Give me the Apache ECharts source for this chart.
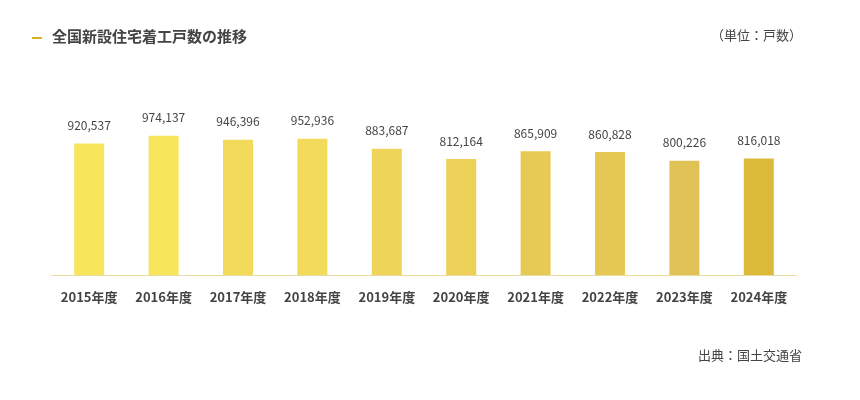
<!DOCTYPE html>
<html><head><meta charset="utf-8">
<script src="https://cdn.jsdelivr.net/npm/echarts@6/dist/echarts.min.js"></script>
<style>body{margin:0;background:#fff}#c{width:860px;height:400px}</style>
</head><body><div id="c"></div>
<script>
var years = ['2015年度','2016年度','2017年度','2018年度','2019年度','2020年度','2021年度','2022年度','2023年度','2024年度'];
var starts = [920537,974137,946396,952936,883687,812164,865909,860828,800226,816018];
var barColors = ['#f7e55b','#f7e55b','#f2da5a','#f2da5a','#efd45a','#ecd058','#e7ca55','#e6c955','#e1c256','#dbb939'];

var font = '"Noto Sans CJK JP", "Noto Sans", sans-serif';
var myChart = echarts.init(document.getElementById('c'));
var option = {
    textStyle: {fontFamily: font},
    graphic: [
        {type: 'rect', left: 32, top: 37, shape: {width: 10, height: 2}, style: {fill: '#d8b21f'}},
        {type: 'text', left: 52, top: 29, style: {text: '全国新設住宅着工戸数の推移', font: 'bold 15px ' + font, fill: '#444'}},
        {type: 'text', right: 58, top: 29, style: {text: '（単位：戸数）', font: '13px ' + font, fill: '#444'}},
        {type: 'text', right: 58, top: 349, style: {text: '出典：国土交通省', font: '13px ' + font, fill: '#444'}}
    ],
    grid: {left: 52, right: 64, top: 75, bottom: 125},
    xAxis: {
        type: 'category',
        data: years,
        axisLine: {lineStyle: {color: '#e8dca0'}},
        axisTick: {show: false},
        axisLabel: {color: '#444', fontWeight: 'bold', fontSize: 13, margin: 16}
    },
    yAxis: {type: 'value', min: 0, max: 1400000, show: false, splitLine: {show: false}},
    series: [{
        type: 'bar',
        barWidth: 30,
        data: starts.map(function (v, i) { return {value: v, itemStyle: {color: barColors[i]}}; }),
        label: {
            show: true, position: 'top', distance: 12, color: '#444', fontSize: 12,
            formatter: function (p) { return p.value.toLocaleString('en-US'); }
        }
    }]
};
myChart.setOption(option);
</script></body></html>
